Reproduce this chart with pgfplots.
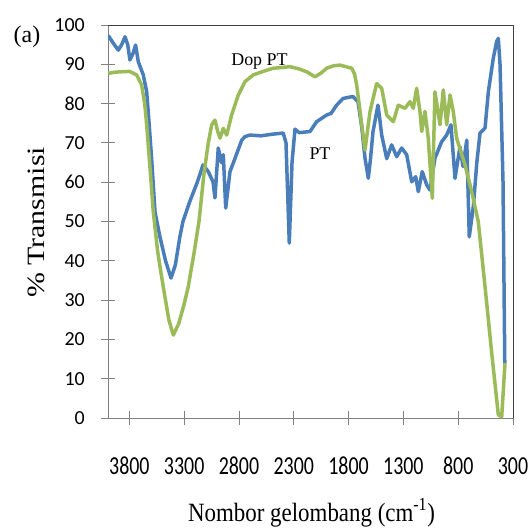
\documentclass[border=0pt]{standalone}
\usepackage{pgfplots}
\pgfplotsset{compat=1.18}
\usepackage{fontspec}
\setmainfont{Liberation Serif}
\newfontfamily\tickfont{Carlito}
\definecolor{ptblue}{RGB}{74,126,187}
\definecolor{dopgreen}{RGB}{155,187,89}

\begin{document}
\begin{tikzpicture}
\path[use as bounding box] (-108bp,-111bp) rectangle (422bp,418bp);
\begin{axis}[
  scale only axis, width=405bp, height=393bp,
  x dir=reverse, xmin=300, xmax=3995, ymin=0, ymax=100,
  xtick={3800,3300,2800,2300,1800,1300,800,300},
  xticklabels={3800,3300,2800,2300,1800,1300,800,300},
  ytick={0,10,...,100},
  yticklabels={0,10,20,30,40,50,60,70,80,90,100},
  axis x line*=bottom, axis y line*=left,
  axis line style={draw=black!50, line width=0.8bp},
  tick align=center,
  major tick length=14bp,
  tick style={black!50, line width=0.8bp},
  xticklabel style={font=\tickfont\fontsize{20}{24}\selectfont, anchor=center, yshift=-41bp, yscale=1.3},
  yticklabel style={font=\tickfont\fontsize{20}{24}\selectfont, anchor=east, inner sep=0pt, xshift=-16bp},
]
% PT
\addplot[ptblue, line width=3.5bp, line join=round] coordinates {
(3992,97.3) (3950,95.5) (3901,93.6) (3870,95) (3840,97.0) (3815,95) (3795,91.1) (3770,92.5)
(3743,94.9) (3719,90.7) (3673,87.3) (3642,83) (3620,75) (3597,66) (3566,52.4) (3521,46.1)
(3470,40) (3420,35.6) (3380,39) (3340,46) (3311,50) (3250,55) (3180,60) (3128,64.4)
(3080,62.7) (3037,60.1) (3019,56) (2989,68.7) (2960,65) (2943,67) (2921,53.4) (2882,62.7)
(2837,66) (2775,70.7) (2745,71.6) (2700,72) (2600,71.8) (2500,72.2) (2396,72.5) (2371,70)
(2341,44.5) (2316,65) (2289,73.5) (2250,72.6) (2152,72.9) (2091,75.4) (2000,77.1) (1960,77.5)
(1909,79.6) (1851,81.3) (1800,81.6) (1760,81.8) (1714,80.5) (1680,74) (1650,66.1) (1620,61)
(1600,66) (1577,72.9) (1532,79.6) (1515,76) (1498,72) (1452,66) (1407,69.5) (1361,66.5)
(1316,68.7) (1270,67) (1224,60.1) (1188,61.4) (1164,57.6) (1128,62.7) (1087,59.3) (1057,58)
(1012,66.1) (951,70.3) (905,72) (866,74.6) (829,61) (784,69) (756,64) (722,70.7)
(699,46.1) (662,53.8) (630,65) (601,72.5) (555,73.8) (525,83) (480,91.5) (449,95.8)
(434,96.6) (418,89.8) (391,60) (375,14)
};
% Dop PT
\addplot[dopgreen, line width=3.5bp, line join=round] coordinates {
(3992,87.7) (3930,88) (3870,88.1) (3800,88.2) (3733,87.3) (3688,84.7) (3660,80) (3642,74.6)
(3610,63) (3582,52.5) (3540,42) (3491,33.4) (3440,25) (3399,21.1) (3350,24) (3300,29)
(3263,33.4) (3210,42) (3165,50) (3120,62) (3080,70) (3049,74.6) (3019,75.8) (2995,73)
(2973,71.2) (2943,73.7) (2912,72) (2867,77.1) (2806,82.2) (2745,85.6) (2670,87.3) (2580,88.2)
(2487,89) (2400,89.2) (2335,89.4) (2250,88.8) (2182,88.1) (2107,86.8) (2050,87.8) (2000,89)
(1940,89.6) (1879,89.8) (1772,89) (1745,87.5) (1726,84.7) (1680,74.6) (1650,68.2) (1605,77.9)
(1544,85.1) (1498,83.9) (1452,77.1) (1392,75.4) (1347,79.6) (1285,78.8) (1240,80.5) (1210,78.8)
(1179,83.9) (1149,78) (1133,72.9) (1103,78) (1073,71.2) (1036,55.9) (1012,83) (966,74.6)
(936,83.5) (905,74.6) (875,82.2) (845,78) (814,71.2) (738,64.4) (677,57.6) (617,50)
(555,33.4) (494,16.5) (450,5) (434,0.8) (403,0.3) (373,14)
};
\node[font=\fontsize{18}{20}\selectfont] at (axis cs:2613,90.8) {Dop PT};
\node[font=\fontsize{18}{20}\selectfont] at (axis cs:2061,67.2) {PT};
\end{axis}
\draw[black!75, line width=0.8bp] (0,393bp) -- (405bp,393bp) -- (405bp,0);
\node[font=\fontsize{24}{28}\selectfont] at (-81bp,381bp) {(a)};
\node[rotate=90, font=\fontsize{25}{30}\selectfont] at (-72bp,195.5bp) {\scalebox{1.2}[1]{\% Transmisi}};
\node[anchor=base, font=\fontsize{23}{28}\selectfont] at (203.5bp,-103bp) {\scalebox{1}[1.15]{Nombor gelombang (cm\textsuperscript{-1})}};
\end{tikzpicture}
\end{document}
